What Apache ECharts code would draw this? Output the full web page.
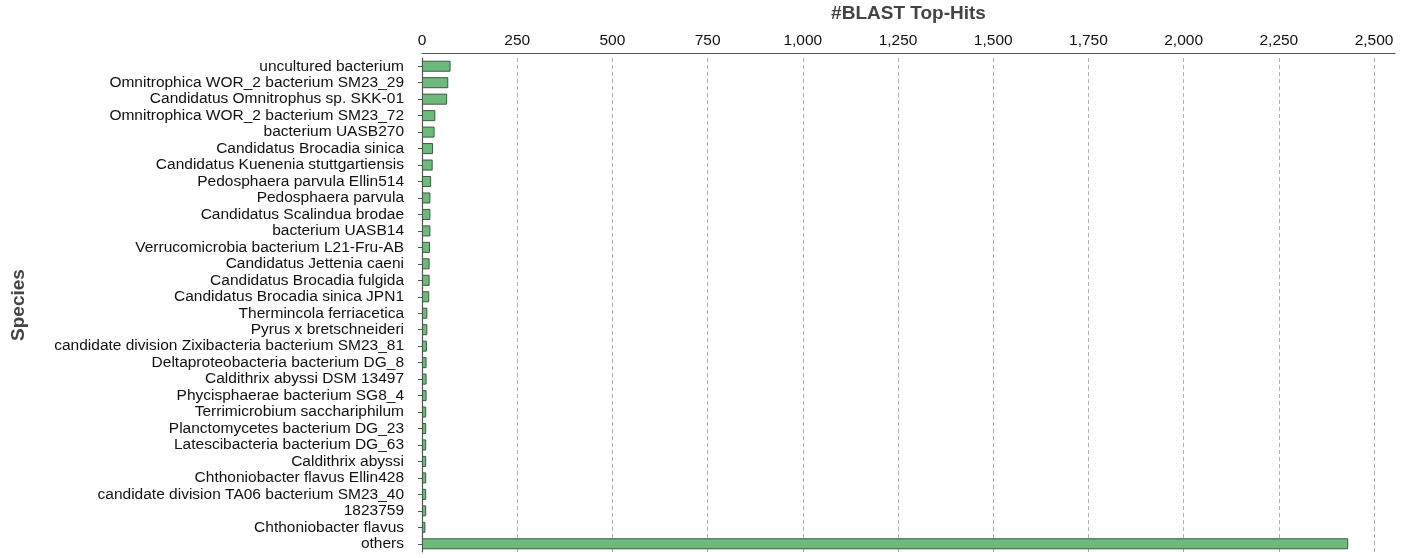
<!DOCTYPE html>
<html>
<head>
<meta charset="utf-8">
<script src="https://cdn.jsdelivr.net/npm/echarts@6/dist/echarts.min.js"></script>
<style>
html,body{margin:0;padding:0;background:#fff;}
#chart{width:1410px;height:558px;}
</style>
</head>
<body>
<div id="chart"></div>
<script>
const species = [
  "uncultured bacterium",
  "Omnitrophica WOR_2 bacterium SM23_29",
  "Candidatus Omnitrophus sp. SKK-01",
  "Omnitrophica WOR_2 bacterium SM23_72",
  "bacterium UASB270",
  "Candidatus Brocadia sinica",
  "Candidatus Kuenenia stuttgartiensis",
  "Pedosphaera parvula Ellin514",
  "Pedosphaera parvula",
  "Candidatus Scalindua brodae",
  "bacterium UASB14",
  "Verrucomicrobia bacterium L21-Fru-AB",
  "Candidatus Jettenia caeni",
  "Candidatus Brocadia fulgida",
  "Candidatus Brocadia sinica JPN1",
  "Thermincola ferriacetica",
  "Pyrus x bretschneideri",
  "candidate division Zixibacteria bacterium SM23_81",
  "Deltaproteobacteria bacterium DG_8",
  "Caldithrix abyssi DSM 13497",
  "Phycisphaerae bacterium SG8_4",
  "Terrimicrobium sacchariphilum",
  "Planctomycetes bacterium DG_23",
  "Latescibacteria bacterium DG_63",
  "Caldithrix abyssi",
  "Chthoniobacter flavus Ellin428",
  "candidate division TA06 bacterium SM23_40",
  "1823759",
  "Chthoniobacter flavus",
  "others"
];
const hits = [75, 69, 66, 35, 33, 29, 28, 24, 22, 22, 22, 21, 20, 20, 19, 14, 14, 13, 12, 12, 12, 11, 11, 11, 11, 11, 11, 11, 9, 2432];

const xTitle = "#BLAST Top-Hits";
const yTitle = "Species";

const chart = echarts.init(document.getElementById('chart'));
const font = "'Liberation Sans', Arial, Helvetica, sans-serif";
chart.setOption({
  animation: false,
  backgroundColor: '#ffffff',
  grid: {left: 422, right: 15, top: 58, bottom: 6, containLabel: false, outerBoundsMode: 'none'},
  xAxis: {
    type: 'value',
    position: 'top',
    offset: 5,
    min: 0,
    max: 2555,
    interval: 250,
    name: xTitle,
    nameLocation: 'middle',
    nameGap: 30,
    nameTextStyle: {fontFamily: font, fontSize: 19, fontWeight: 'bold', color: '#444444'},
    axisLine: {show: true, lineStyle: {color: '#555555', width: 1.2}},
    axisTick: {show: false},
    axisLabel: {
      fontFamily: font, fontSize: 15.5, color: '#111111', margin: 4,
      showMaxLabel: false,
      formatter: function (v) { return v % 250 === 0 ? v.toLocaleString('en-US') : ''; }
    },
    splitLine: {show: true, showMaxLine: false, lineStyle: {color: '#b0b0b0', type: [4, 3], width: 1}}
  },
  yAxis: {
    type: 'category',
    data: species,
    inverse: true,
    offset: 5,
    name: yTitle,
    nameLocation: 'middle',
    nameGap: 389,
    nameRotate: 90,
    nameTextStyle: {fontFamily: font, fontSize: 19, fontWeight: 'bold', color: '#444444'},
    axisLine: {show: true, lineStyle: {color: '#555555', width: 1.2}},
    axisTick: {show: true, alignWithLabel: true, length: 4, lineStyle: {color: '#555555'}},
    axisLabel: {fontFamily: font, fontSize: 15.5, color: '#111111', margin: 13, interval: 0},
    splitLine: {show: false}
  },
  series: [{
    type: 'bar',
    data: hits,
    barCategoryGap: '33%',
    itemStyle: {color: '#6dba7c', borderColor: '#3d5a44', borderWidth: 1}
  }]
});
</script>
</body>
</html>
